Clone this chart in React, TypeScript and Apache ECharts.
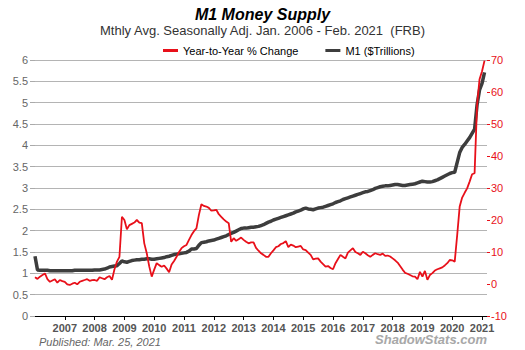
import React, { useEffect, useRef } from "react";
import * as echarts from "echarts";

const FONT = "'Liberation Sans', Arial, Helvetica, sans-serif";

const titleText = "M1 Money Supply";
const subtitleText = "Mthly Avg. Seasonally Adj. Jan. 2006 - Feb. 2021  (FRB)";
const seriesNames = ["Year-to-Year % Change", "M1 ($Trillions)"];
const publishedText = "Published: Mar. 25, 2021";
const brandText = "ShadowStats.com";

const years = [2006, 2007, 2008, 2009, 2010, 2011, 2012, 2013, 2014, 2015, 2016, 2017, 2018, 2019, 2020, 2021];
// months per year shown on the axis (2021 axis runs to March, data to February)
const monthsShown = [12, 12, 12, 12, 12, 12, 12, 12, 12, 12, 12, 12, 12, 12, 12, 3];

const categories: string[] = [];
years.forEach((y, i) => {
  for (let m = 1; m <= monthsShown[i]; m++) categories.push(`${y}-${m < 10 ? "0" + m : m}`);
});

// M1, $ trillions (left axis)
const m1 = [
  1.40, 1.08, 1.07, 1.07, 1.07, 1.07, 1.06, 1.06, 1.06, 1.06, 1.06, 1.06,
  1.06, 1.06, 1.06, 1.06, 1.07, 1.07, 1.07, 1.07, 1.07, 1.07, 1.07, 1.07,
  1.08, 1.08, 1.08, 1.09, 1.10, 1.12, 1.15, 1.16, 1.17, 1.18, 1.23, 1.29,
  1.27, 1.26, 1.28, 1.30, 1.31, 1.32, 1.32, 1.33, 1.33, 1.34, 1.34, 1.33,
  1.33, 1.34, 1.35, 1.36, 1.37, 1.39, 1.40, 1.42, 1.44, 1.45, 1.46, 1.47,
  1.48, 1.49, 1.52, 1.57, 1.57, 1.58, 1.66, 1.72, 1.73, 1.74, 1.76, 1.77,
  1.78, 1.80, 1.82, 1.84, 1.86, 1.88, 1.91, 1.94, 1.96, 1.99, 2.02, 2.05,
  2.06, 2.06, 2.07, 2.08, 2.08, 2.09, 2.10, 2.12, 2.14, 2.17, 2.20, 2.22,
  2.25, 2.27, 2.29, 2.31, 2.33, 2.35, 2.37, 2.39, 2.41, 2.44, 2.46, 2.48,
  2.51, 2.53, 2.51, 2.50, 2.49, 2.51, 2.53, 2.54, 2.55, 2.57, 2.59, 2.61,
  2.63, 2.66, 2.68, 2.70, 2.73, 2.75, 2.77, 2.79, 2.81, 2.83, 2.85, 2.87,
  2.89, 2.91, 2.92, 2.94, 2.96, 2.99, 3.01, 3.03, 3.04, 3.05, 3.05, 3.06,
  3.07, 3.08, 3.08, 3.07, 3.06, 3.06, 3.07, 3.08, 3.09, 3.10, 3.12, 3.14,
  3.16, 3.15, 3.14, 3.14, 3.15, 3.17, 3.19, 3.22, 3.25, 3.28, 3.31, 3.34,
  3.36, 3.37, 3.60, 3.83, 3.95, 4.02, 4.10, 4.18, 4.28, 4.38, 4.95, 5.30,
  5.45, 5.71,
];

// Year-to-year % change (right axis)
const yoy = [
  2.1, 1.6, 2.3, 2.8, 3.3, 1.5, 0.7, 1.1, 1.5, 0.4, 1.25, 0.9,
  0.7, -0.1, -0.3, 0.1, 0.4, -0.1, 0.7, 1.0, 1.25, 1.5, 1.0, 1.2,
  1.25, 1.0, 2.1, 1.8, 1.5, 2.1, 2.5, 1.3, 4.6, 7.0, 8.5, 21.0,
  20.0, 17.1, 18.4, 18.8, 19.2, 20.0, 19.2, 19.0, 12.7, 9.6, 5.5, 2.3,
  4.5, 6.5, 5.9, 5.4, 5.8, 4.8, 3.7, 6.1, 7.2, 8.5, 10.0, 11.2,
  11.8, 12.2, 13.8, 15.3, 16.5, 17.4, 21.6, 24.9, 24.4, 24.2, 23.8, 22.9,
  23.0, 23.2, 21.8, 21.0, 20.2, 19.5, 19.0, 13.2, 14.3, 13.5, 14.0, 14.5,
  13.8, 13.2, 12.7, 13.0, 13.0, 11.3, 10.4, 9.6, 9.1, 8.5, 8.5, 9.6,
  10.5, 11.5, 11.8, 12.5, 12.8, 13.4, 11.5, 12.3, 12.0, 11.5, 11.7, 11.9,
  10.8, 10.6, 9.8, 9.1, 7.7, 7.9, 8.0, 7.0, 6.2, 5.4, 5.6, 5.0,
  4.6, 6.5, 7.8, 9.1, 8.5, 8.0, 9.8, 10.5, 11.2, 10.0, 9.6, 9.1,
  10.1, 9.6, 9.0, 8.5, 9.1, 9.6, 9.3, 9.1, 9.5, 8.8, 8.9, 8.6,
  8.0, 7.4, 6.7, 5.6, 4.5, 3.5, 3.2, 2.8, 2.4, 2.3, 1.5, 3.8,
  2.3, 4.1, 1.3, 2.8, 3.4, 4.2, 4.6, 4.9, 5.2, 5.8, 6.5, 7.5,
  7.4, 7.0, 15.3, 24.2, 27.0, 28.5, 29.9, 32.0, 34.3, 34.6, 56.0, 64.0,
  66.5, 69.8,
];

const RED = "#e8101a";
const DARK = "#3d3d3d";

export default function App() {
  const ref = useRef<HTMLDivElement>(null);

  useEffect(() => {
    document.body.style.margin = "0";
    const chart = echarts.init(ref.current as HTMLDivElement, null, { renderer: "svg" });
    const isYearStart = (i: number) => i > 0 && i % 12 === 0;

    chart.setOption({
      animation: false,
      backgroundColor: "#ffffff",
      textStyle: { fontFamily: FONT },
      title: [
        {
          text: titleText,
          left: "center",
          top: 1,
          textStyle: { fontFamily: FONT, fontSize: 16, fontWeight: "bold", fontStyle: "italic", color: "#000" },
        },
        {
          text: subtitleText,
          left: "center",
          top: 19,
          textStyle: { fontFamily: FONT, fontSize: 13, fontWeight: "normal", color: "#333" },
        },
      ],
      legend: {
        top: 40,
        left: 158,
        itemWidth: 15,
        itemHeight: 3,
        itemGap: 27,
        icon: "rect",
        textStyle: { fontFamily: FONT, fontSize: 11, color: "#000" },
        data: seriesNames,
      },
      grid: { left: 35, right: 38, top: 60, bottom: 34 },
      xAxis: {
        type: "category",
        data: categories,
        boundaryGap: false,
        axisLine: { lineStyle: { color: "#000", width: 1 } },
        axisTick: {
          interval: (i: number) => isYearStart(i),
          length: 4,
          lineStyle: { color: "#000" },
        },
        axisLabel: {
          interval: (i: number) => isYearStart(i),
          formatter: (v: string) => v.slice(0, 4),
          fontFamily: FONT,
          fontSize: 11,
          fontWeight: "bold",
          color: "#555",
          margin: 6,
        },
        splitLine: { show: false },
      },
      yAxis: [
        {
          type: "value",
          min: 0,
          max: 6,
          interval: 0.5,
          position: "left",
          axisLine: { show: false },
          axisTick: { show: true, length: 5, lineStyle: { color: "#aaa" } },
          axisLabel: { color: "#666", fontSize: 11, fontFamily: FONT, margin: 7 },
          splitLine: { show: true, lineStyle: { color: "#b4b4b4", width: 1 } },
        },
        {
          type: "value",
          min: -10,
          max: 70,
          interval: 10,
          position: "right",
          axisLine: { show: false },
          axisTick: { show: true, length: 3, lineStyle: { color: RED } },
          axisLabel: { color: RED, fontSize: 11, fontFamily: FONT, margin: 4 },
          splitLine: { show: false },
        },
      ],
      series: [
        {
          name: seriesNames[1],
          type: "line",
          yAxisIndex: 0,
          data: m1,
          showSymbol: false,
          symbol: "none",
          lineStyle: { color: DARK, width: 3.5 },
          itemStyle: { color: DARK },
          z: 2,
        },
        {
          name: seriesNames[0],
          type: "line",
          yAxisIndex: 1,
          data: yoy,
          showSymbol: false,
          symbol: "none",
          lineStyle: { color: RED, width: 1.8 },
          itemStyle: { color: RED },
          z: 3,
        },
      ],
      graphic: [
        {
          type: "text",
          left: 39,
          top: 336,
          style: { text: publishedText, font: `italic 11px ${FONT}`, fill: "#666" },
        },
        {
          type: "text",
          right: 38,
          top: 333,
          style: { text: brandText, font: `italic bold 13px ${FONT}`, fill: "#a8a8a8" },
        },
      ],
    });

    return () => chart.dispose();
  }, []);

  return <div ref={ref} style={{ width: 525, height: 350 }} />;
}
